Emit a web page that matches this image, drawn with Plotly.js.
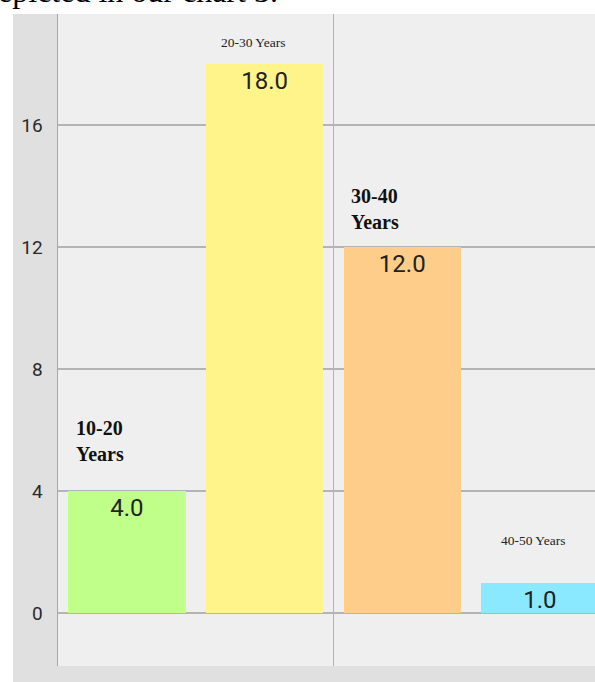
<!DOCTYPE html>
<html>
<head>
<meta charset="utf-8">
<script src="https://cdn.plot.ly/plotly-3.0.1.min.js"></script>
<style>
  html, body { margin: 0; padding: 0; background: #ffffff; }
  #chart { width: 595px; height: 682px; }
</style>
</head>
<body>
<div id="chart"></div>
<script>
// ---- data ----
const categories = ['10-20 Years', '20-30 Years', '30-40 Years', '40-50 Years'];
const positions = [0, 1, 2, 3];
const counts = [4, 18, 12, 1];
const barColors = ['#c0ff8a', '#fff48a', '#ffcd8a', '#8ae8ff'];
const yTicks = [0, 4, 8, 12, 16];
const captionText = 'epicted in our chart 3.';

// ---- chart ----
const bars = {
  type: 'bar',
  x: positions,
  y: counts,
  width: 0.852,
  marker: { color: barColors, line: { width: 0 } },
  texttemplate: '%{y:.1f}',
  textposition: 'inside',
  insidetextanchor: 'end',
  constraintext: 'none',
  textangle: 0,
  textfont: { family: 'Roboto, Arial, sans-serif', size: 24, color: '#222222' },
  hoverinfo: 'none',
  showlegend: false
};

const serif = 'Liberation Serif, Times New Roman, serif';

const annotations = [
  { text: '<b>10-20<br>Years</b>', x: -0.382, y: 5.64, xanchor: 'left', yanchor: 'middle', align: 'left',
    font: { family: serif, size: 20, color: '#111111' } },
  { text: '20-30 Years', x: 0.918, y: 18.72, xanchor: 'center', yanchor: 'middle',
    font: { family: serif, size: 13.5, color: '#222222' } },
  { text: '<b>30-40<br>Years</b>', x: 1.615, y: 13.25, xanchor: 'left', yanchor: 'middle', align: 'left',
    font: { family: serif, size: 20, color: '#111111' } },
  { text: '40-50 Years', x: 2.951, y: 2.39, xanchor: 'center', yanchor: 'middle',
    font: { family: serif, size: 13.5, color: '#222222' } },
  { text: captionText, xref: 'paper', yref: 'paper', x: -0.116, y: 1, xanchor: 'left', yanchor: 'bottom',
    yshift: 3, showarrow: false, font: { family: serif, size: 32, color: '#000000' } }
].map(a => Object.assign({ xref: 'x', yref: 'y', showarrow: false }, a));

const W = 595, H = 682, L = 58, T = 14, B = 16;
const pw = W - L, ph = H - T - B;

const layout = {
  width: W,
  height: H,
  margin: { l: L, r: 0, t: T, b: B, pad: 0 },
  paper_bgcolor: '#e0e0e0',
  plot_bgcolor: '#efefef',
  showlegend: false,
  bargap: 0,
  xaxis: {
    type: 'linear',
    range: [-0.5, -0.5 + pw / 137.7],
    tick0: -0.5,
    dtick: 2,
    showticklabels: false,
    ticks: '',
    showgrid: true,
    gridcolor: '#b4b4b4',
    gridwidth: 1.2,
    zeroline: false,
    showline: false,
    fixedrange: true
  },
  yaxis: {
    range: [-(666 - 613) / 30.5, (613 - 14) / 30.5],
    tickvals: yTicks,
    ticktext: yTicks.map(String),
    ticks: '',
    ticklabelstandoff: 10,
    tickfont: { family: 'Roboto, Arial, sans-serif', size: 19, color: '#2a2a2a' },
    showgrid: true,
    gridcolor: '#b4b4b4',
    gridwidth: 1.2,
    zeroline: false,
    showline: true,
    linecolor: '#a8a8a8',
    linewidth: 1.5,
    fixedrange: true
  },
  shapes: [
    // white page strip above the chart frame
    { type: 'rect', xref: 'paper', yref: 'paper', x0: -L / pw - 0.01, x1: 1.01, y0: 1, y1: 1 + (T + 1) / ph,
      fillcolor: '#ffffff', line: { width: 0 }, layer: 'above' },
    // white page strip left of the chart frame
    { type: 'rect', xref: 'paper', yref: 'paper', x0: -L / pw - 0.01, x1: -(L - 13) / pw, y0: -B / ph - 0.01, y1: 1 + (T + 1) / ph,
      fillcolor: '#ffffff', line: { width: 0 }, layer: 'above' }
  ],
  annotations: annotations
};

Plotly.newPlot('chart', [bars], layout, { displayModeBar: false, staticPlot: true });
</script>
</body>
</html>
